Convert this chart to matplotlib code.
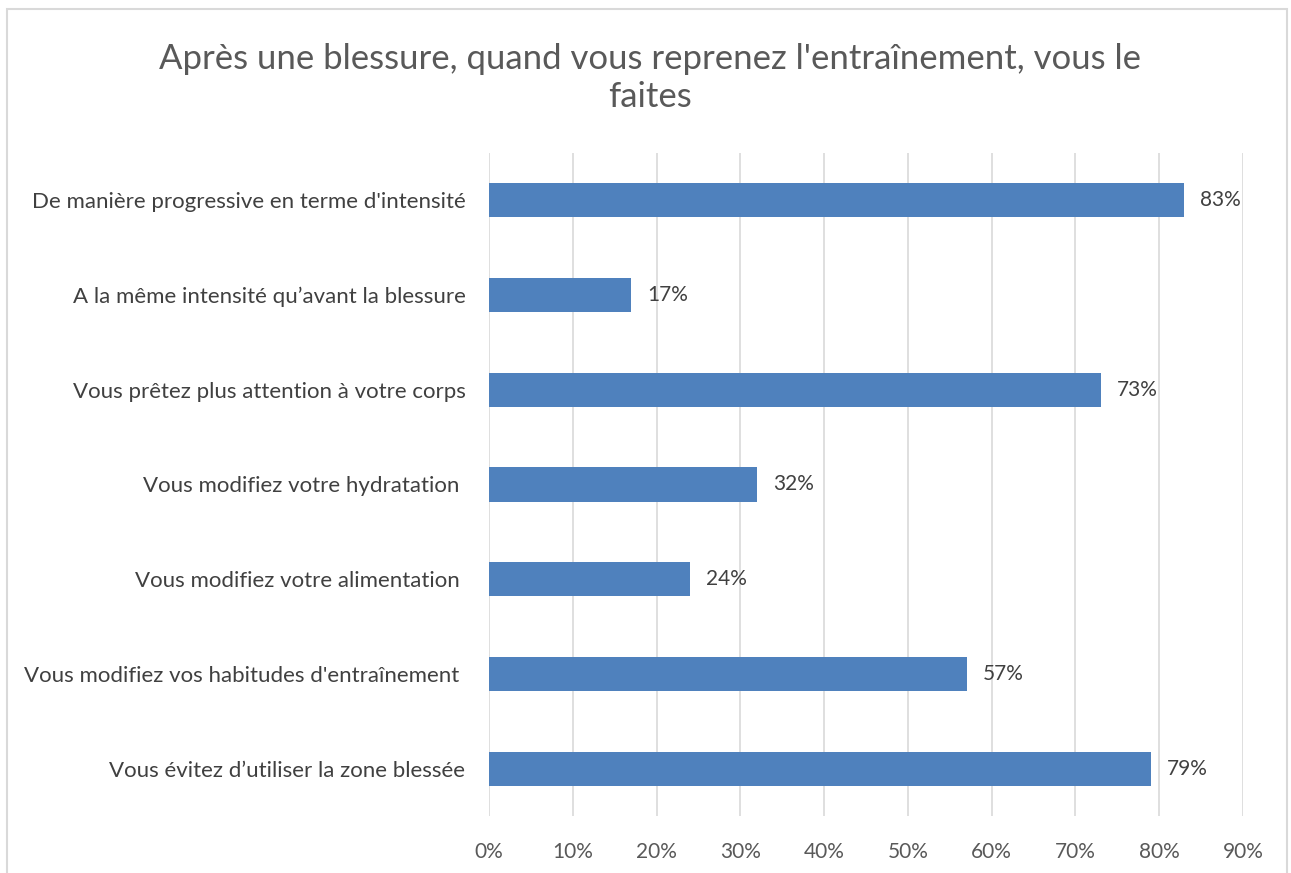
import matplotlib.pyplot as plt
from matplotlib.patches import Rectangle
from matplotlib.ticker import FuncFormatter

categories = [
    "De manière progressive en terme d'intensité",
    "A la même intensité qu\u2019avant la blessure",
    "Vous prêtez plus attention à votre corps",
    "Vous modifiez votre hydratation ",
    "Vous modifiez votre alimentation ",
    "Vous modifiez vos habitudes d'entraînement ",
    "Vous évitez d\u2019utiliser la zone blessée",
]
values = [83, 17, 73, 32, 24, 57, 79]
ticks = [0, 10, 20, 30, 40, 50, 60, 70, 80, 90]
title = "Après une blessure, quand vous reprenez l'entraînement, vous le\nfaites"

plt.rcParams['font.family'] = ['Lato', 'DejaVu Sans']

fig = plt.figure(figsize=(12.91, 8.73), dpi=100)
ax = fig.add_axes([489 / 1291, 1 - 816 / 873, (1243 - 489) / 1291, (816 - 153) / 873])

# border of the chart area (bottom cut off like the reference)
fig.patches.append(Rectangle((7 / 1291, -0.05), 1280 / 1291, 1.05 - 9 / 873,
                             transform=fig.transFigure, fill=False,
                             edgecolor='#d9d9d9', lw=1.5))

pos = list(range(len(categories)))
ax.barh(pos, values, height=0.36, color='#4F81BD', zorder=3)
for p, v in zip(pos, values):
    ax.text(v + 1.9, p, f"{v}%", va='center', ha='left', fontsize=15, color='#404040')

ax.set_xlim(0, 90)
ax.set_ylim(len(categories) - 0.5, -0.5)
ax.set_xticks(ticks)
ax.xaxis.set_major_formatter(FuncFormatter(lambda x, _: f"{x:.0f}%"))
ax.set_yticks(pos)
ax.set_yticklabels(categories)
ax.tick_params(axis='both', length=0, labelsize=15, colors='#595959')
ax.tick_params(axis='y', labelsize=16, pad=17, labelcolor='#404040')
ax.tick_params(axis='x', pad=19)
ax.grid(axis='x', color='#d9d9d9', lw=1.2, zorder=0)
for s in ax.spines.values():
    s.set_visible(False)

fig.text(650 / 1291, 1 - 78 / 873, title, ha='center', va='center',
         fontsize=25, color='#595959', linespacing=1.2)

fig.savefig("out.png", dpi=100)
